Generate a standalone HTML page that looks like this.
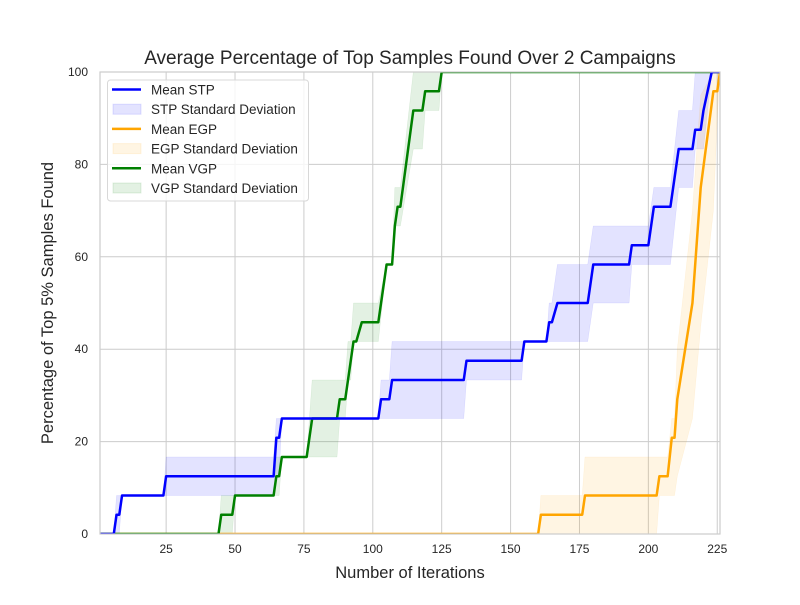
<!DOCTYPE html>
<html><head><meta charset="utf-8"><style>
body{margin:0;background:#fff;}
svg text{font-family:"Liberation Sans","DejaVu Sans",sans-serif;fill:#262626;}
</style></head><body>
<svg id="chart" width="800" height="600" viewBox="0 0 800 600" xmlns="http://www.w3.org/2000/svg">
<defs><clipPath id="clip"><rect x="100" y="72" width="620" height="462"/></clipPath></defs>
<rect x="0" y="0" width="800" height="600" fill="#fff"/>
<g id="grid"></g>
<g id="bands" clip-path="url(#clip)"></g>
<g id="lines" clip-path="url(#clip)"></g>
<rect x="100" y="72" width="620" height="462" fill="none" stroke="#cccccc" stroke-width="1.2"/>
<g id="ticks"></g>
<text x="410" y="64" text-anchor="middle" font-size="19">Average Percentage of Top Samples Found Over 2 Campaigns</text>
<text x="410" y="578" text-anchor="middle" font-size="16.5">Number of Iterations</text>
<text x="53" y="303" text-anchor="middle" font-size="16.5" transform="rotate(-90 53 303)">Percentage of Top 5% Samples Found</text>
<g id="legend">
<rect x="107.5" y="80" width="201" height="121" rx="3" fill="#fff" fill-opacity="0.8" stroke="#d8d8d8"/>
</g>
</svg>
<script>
const xTicks=[25,50,75,100,125,150,175,200,225];
const yTicks=[0,20,40,60,80,100];
const stpX=[1,6,7,8,9,24,25,64,65,66,67,102,103,106,107,133,134,154,155,163,164,165,167,178,180,193,194,200,202,208,211,216,217,219,220,223,226];
const stpMean=[0,0,4.17,4.17,8.33,8.33,12.5,12.5,20.83,20.83,25,25,29.17,29.17,33.33,33.33,37.5,37.5,41.67,41.67,45.83,45.83,50,50,58.33,58.33,62.5,62.5,70.83,70.83,83.33,83.33,87.5,87.5,91.67,100,100];
const stpLo=[0,0,0,0,8.33,8.33,8.33,8.33,12.5,12.5,25,25,25,25,25,25,33.33,33.33,41.67,41.67,41.67,41.67,41.67,41.67,50,50,58.33,58.33,58.33,58.33,75,75,83.33,83.33,83.33,100,100];
const stpHi=[0,0,8.33,8.33,8.33,8.33,16.67,16.67,25,25,25,25,33.33,33.33,41.67,41.67,41.67,41.67,41.67,41.67,50,50,58.33,58.33,66.67,66.67,66.67,66.67,75,75,91.67,91.67,100,100,100,100,100];
const egpX=[1,160,161,176,177,203,204,207,208.5,209.5,210.5,216,219,223.6,225,226];
const egpMean=[0,0,4.17,4.17,8.33,8.33,12.5,12.5,20.83,20.83,29.17,50,75,95.83,95.83,100];
const egpLo=[0,0,0,0,0,0,8.33,8.33,8.33,8.33,12.5,25,45,70,90,100];
const egpHi=[0,0,8.33,8.33,16.67,16.67,16.67,16.67,25,25,40,70,95,100,100,100];
const vgpX=[1,44,45,49,50,64,65,66,67,76,78,87,88,90,91,92,93,94,96,102,105,107,108,109,110,114.7,118,119,124,125,226];
const vgpMean=[0,0,4.17,4.17,8.33,8.33,12.5,12.5,16.67,16.67,25,25,29.17,29.17,33.33,37.5,41.67,41.67,45.83,45.83,58.33,58.33,66.67,70.83,70.83,91.67,91.67,95.83,95.83,100,100];
const vgpLo=[0,0,0,0,8.33,8.33,8.33,8.33,16.67,16.67,16.67,16.67,25,25,33.33,33.33,41.67,41.67,41.67,41.67,58.33,58.33,66.67,66.67,66.67,83.33,83.33,91.67,91.67,100,100];
const vgpHi=[0,0,8.33,8.33,8.33,8.33,16.67,16.67,16.67,16.67,33.33,33.33,33.33,33.33,41.67,41.67,50,50,50,50,58.33,58.33,75,75,75,100,100,100,100,100,100];

const NS="http://www.w3.org/2000/svg";
const X0=100,X1=720,Y0=534,Y1=72,DMIN=1,DMAX=226;
const xs=v=>X0+(v-DMIN)/(DMAX-DMIN)*(X1-X0);
const ys=v=>Y0-(v/100)*(Y0-Y1);
function mk(tag,attrs,parent){const e=document.createElementNS(NS,tag);for(const k in attrs)e.setAttribute(k,attrs[k]);parent.appendChild(e);return e;}
const grid=document.getElementById('grid'),ticks=document.getElementById('ticks');
xTicks.forEach(t=>{
  const l=mk('line',{x1:xs(t),x2:xs(t),y1:Y1,y2:Y0,stroke:'#cccccc','stroke-width':1},grid);
  
  
  const tx=mk('text',{x:xs(t),y:Y0+19,'text-anchor':'middle','font-size':12},ticks);
  tx.textContent=t;
  
  
});
yTicks.forEach(t=>{
  const l=mk('line',{x1:X0,x2:X1,y1:ys(t),y2:ys(t),stroke:'#cccccc','stroke-width':1},grid);
  
  
  const tx=mk('text',{x:X0-12,y:ys(t)+4,'text-anchor':'end','font-size':12},ticks);
  tx.textContent=t;
  
  
});
const series=[
 {name:'stp',x:stpX,m:stpMean,lo:stpLo,hi:stpHi,c:'#0000ff',f:'rgba(0,0,255,0.11)',label:'STP'},
 {name:'egp',x:egpX,m:egpMean,lo:egpLo,hi:egpHi,c:'#ffa500',f:'rgba(255,165,0,0.11)',label:'EGP'},
 {name:'vgp',x:vgpX,m:vgpMean,lo:vgpLo,hi:vgpHi,c:'#008000',f:'rgba(0,128,0,0.11)',label:'VGP'}
];
const bands=document.getElementById('bands'),lines=document.getElementById('lines');
series.forEach(s=>{
  const top=s.x.map((v,i)=>xs(v)+','+ys(s.hi[i]));
  const bot=s.x.map((v,i)=>xs(v)+','+ys(s.lo[i])).reverse();
  const p=mk('polygon',{points:top.concat(bot).join(' '),fill:s.f,stroke:s.f,'stroke-width':0.5},bands);
  
  
});
[series[1],series[2],series[0]].forEach(s=>{
  const pl=mk('polyline',{points:s.x.map((v,i)=>xs(v)+','+ys(s.m[i])).join(' '),fill:'none',stroke:s.c,'stroke-width':2.5,'stroke-linejoin':'round'},lines);
  
  
});
const leg=document.getElementById('legend');
let ly=89.5;
series.forEach(s=>{
  const l=mk('line',{x1:112,x2:141,y1:ly,y2:ly,stroke:s.c,'stroke-width':2.5},leg);
  
  
  const t=mk('text',{x:151,y:ly+5,'font-size':13.5},leg);
  t.textContent='Mean '+s.label;
  
  
  ly+=19.7;
  const r=mk('rect',{x:113,y:ly-5,width:28,height:10,fill:s.f,stroke:s.f},leg);
  
  
  const t2=mk('text',{x:151,y:ly+5,'font-size':13.5},leg);
  t2.textContent=s.label+' Standard Deviation';
  
  
  ly+=19.7;
});
</script>
</body></html>
